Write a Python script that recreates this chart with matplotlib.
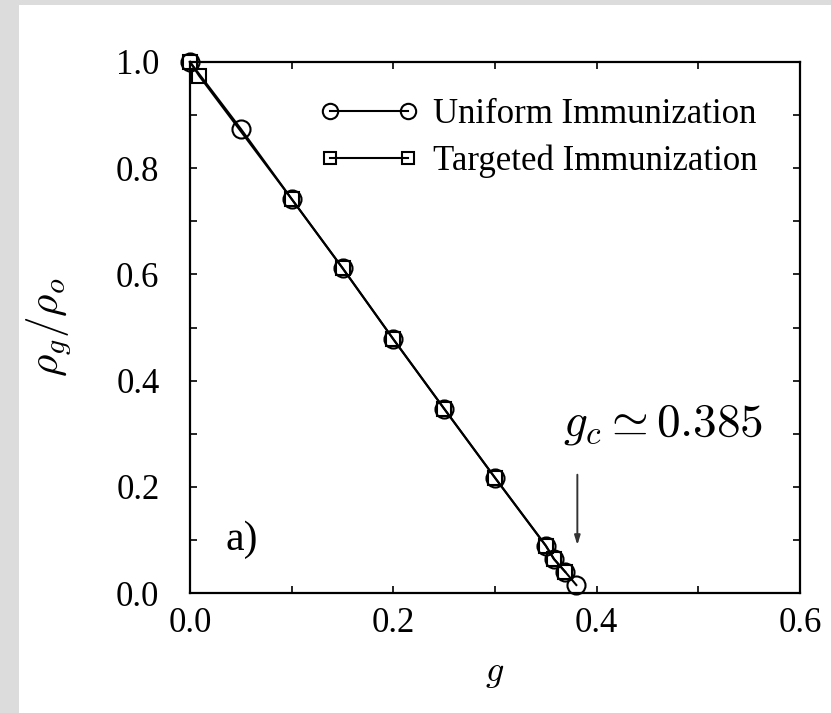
import numpy as np
import matplotlib
matplotlib.use('Agg')
import matplotlib.pyplot as plt
from matplotlib.patches import Rectangle

plt.rcParams['font.family'] = 'Liberation Serif'
plt.rcParams['mathtext.fontset'] = 'cm'

# Data
g_uniform = [0.0, 0.05, 0.10, 0.15, 0.20, 0.25, 0.30, 0.35, 0.358, 0.369, 0.380]
rho_uniform = [1.0, 0.874, 0.742, 0.612, 0.478, 0.347, 0.217, 0.089, 0.064, 0.040, 0.015]

g_targeted = [0.0, 0.009, 0.10, 0.15, 0.20, 0.25, 0.30, 0.35, 0.358, 0.369]
rho_targeted = [1.0, 0.974, 0.742, 0.612, 0.478, 0.347, 0.217, 0.089, 0.064, 0.040]

labels = ['Uniform Immunization', 'Targeted Immunization']
g_c = 0.385

fig = plt.figure(figsize=(8.31, 7.13), dpi=100)
fig.patch.set_facecolor('white')

# gray frame along left and top edges
fig.patches.append(Rectangle((0, 0), 19 / 831, 1, transform=fig.transFigure,
                             facecolor='#dcdcdc', edgecolor='none', zorder=-1))
fig.patches.append(Rectangle((0, 1 - 5 / 713), 1, 5 / 713, transform=fig.transFigure,
                             facecolor='#dcdcdc', edgecolor='none', zorder=-1))

ax = fig.add_axes([190 / 831, 1 - 593 / 713, 610 / 831, 531 / 713])

ax.plot(g_uniform, rho_uniform, color='black', linewidth=1.5, marker='o',
        markersize=13, markerfacecolor='none', markeredgewidth=1.5,
        label=labels[0], clip_on=False, zorder=3)
ax.plot(g_targeted, rho_targeted, color='black', linewidth=1.5, marker='s',
        markersize=10.5, markerfacecolor='none', markeredgewidth=1.5,
        label=labels[1], clip_on=False, zorder=3)

ax.set_xlim(0, 0.6)
ax.set_ylim(0, 1.0)
ax.set_xticks([0.0, 0.2, 0.4, 0.6])
ax.set_xticks([0.1, 0.3, 0.5], minor=True)
ax.set_yticks([0.0, 0.2, 0.4, 0.6, 0.8, 1.0])
ax.set_yticks([0.1, 0.3, 0.5, 0.7, 0.9], minor=True)
ax.set_xticklabels(['0.0', '0.2', '0.4', '0.6'])
ax.set_yticklabels(['0.0', '0.2', '0.4', '0.6', '0.8', '1.0'])
ax.tick_params(which='both', direction='in', top=True, right=True,
               labelsize=25, width=1.2)
ax.tick_params(axis='x', pad=10)
ax.tick_params(axis='y', pad=22)
ax.tick_params(which='major', length=5)
ax.tick_params(which='minor', length=5)
for s in ax.spines.values():
    s.set_linewidth(1.6)

ax.set_xlabel(r'$g$', fontsize=26, labelpad=12)
ax.set_ylabel(r'$\rho_g/\rho_o$', fontsize=31, labelpad=30)

ax.text(0.035, 0.10, 'a)', fontsize=30, va='center', ha='left')

ax.text(0.465, 0.318, r'$g_c \simeq %.3f$' % g_c, fontsize=34, ha='center', va='center')
ax.annotate('', xy=(0.381, 0.085), xytext=(0.381, 0.228),
            arrowprops=dict(arrowstyle='-|>,head_length=0.55,head_width=0.17',
                            color='#333333', linewidth=1.4))

ax.legend(loc='upper left', bbox_to_anchor=(0.213, 0.932), frameon=False, fontsize=25,
          handlelength=2.85, handletextpad=0.4, labelspacing=0.38, numpoints=2,
          markerscale=0.85, borderaxespad=0, borderpad=0)

fig.savefig('out.png', dpi=100, facecolor=fig.get_facecolor())
